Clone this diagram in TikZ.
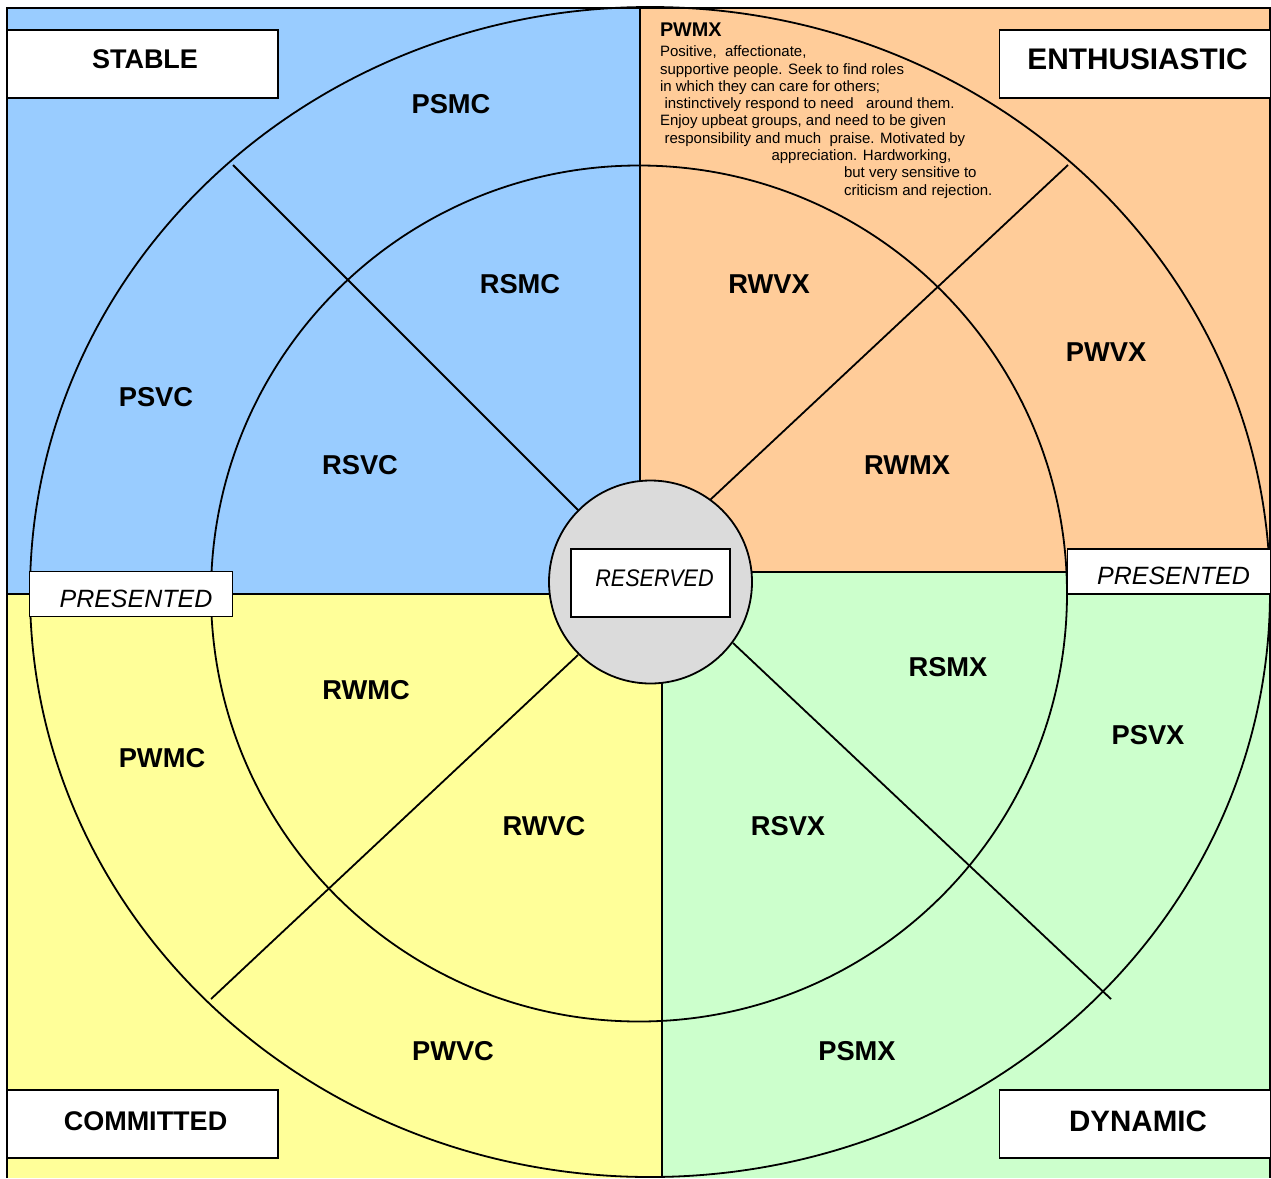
\documentclass[tikz,border=0pt]{standalone}
\usepackage{fontspec}
\setmainfont{Liberation Sans}
\usepackage{graphicx}
\definecolor{qblue}{HTML}{99CCFF}
\definecolor{qorange}{HTML}{FFCC99}
\definecolor{qyellow}{HTML}{FFFF99}
\definecolor{qgreen}{HTML}{CCFFCC}
\definecolor{qgray}{HTML}{DBDBDB}
\begin{document}
\begin{tikzpicture}[x=1pt,y=-1pt,
  every node/.style={inner sep=0pt, outer sep=0pt},
  rule/.style={line width=1.8pt, draw=black},
  region/.style={font=\fontsize{27.3}{30}\selectfont\bfseries},
  cornerbox/.style={draw=black, line width=1.8pt, fill=white, minimum width=271pt, minimum height=68pt},
  cornertext/.style={font=\fontsize{27}{30}\selectfont\bfseries},
  tagbox/.style={draw=black, line width=1.8pt, fill=white},
  tagtext/.style={font=\fontsize{25}{28}\selectfont\itshape},
  note/.style={anchor=base west, font=\fontsize{15}{17}\selectfont},
]
\useasboundingbox (0,0) rectangle (1271,1178);
\fill[white] (0,0) rectangle (1271,1178);

% quadrant backgrounds
\fill[qblue]   (7,8)     rectangle (640,594);
\fill[qorange] (640,8)   rectangle (1270,572);
\fill[qyellow] (7,594)   rectangle (662,1178);
\fill[qgreen]  (662,572) rectangle (1270,1178);

% outer and inner rings
\begin{scope}
  \clip (0,0) rectangle (1271,1178);
  \draw[rule] (650,592) ellipse [x radius=620, y radius=585];
\end{scope}
\draw[rule] (639,593.5) circle [radius=428];

% diagonal dividers
\coordinate (tlo) at (233,165);  \coordinate (tli) at (578,510);
\coordinate (tro) at (1068,165); \coordinate (tri) at (710,500);
\coordinate (blo) at (211,999);  \coordinate (bli) at (578,655);
\coordinate (bro) at (1111,999); \coordinate (bri) at (733,643);
\draw[rule] (tlo) -- (tli);
\draw[rule] (tro) -- (tri);
\draw[rule] (blo) -- (bli);
\draw[rule] (bro) -- (bri);

% quadrant borders and frame
\draw[rule] (7,594) -- (650,594);
\draw[rule] (650,572) -- (1270,572);
\draw[rule] (640,8) -- (640,583);
\draw[rule] (662,583) -- (662,1178);
\draw[rule] (7,1178) -- (7,8) -- (1270,8) -- (1270,1178);

% centre disc
\node[circle, rule, fill=qgray, minimum size=203pt] (core) at (650.5,582) {};
\node[tagbox, minimum width=159pt, minimum height=68pt] (resbox) at (650.5,583) {};
\node[font=\fontsize{24}{28}\selectfont\itshape] (restext) at (654.5,578) {\scalebox{0.9}[1]{RESERVED}};

% side tags
\node[tagbox, minimum width=203pt, minimum height=45pt] (presLbox) at (131,594) {};
\node[tagtext] (presL) at (136,598.5) {PRESENTED};
\node[tagbox, minimum width=203pt, minimum height=45pt] (presRbox) at (1169,571.7) {};
\node[tagtext] (presR) at (1173.5,575.7) {PRESENTED};

% corner boxes
\node[cornerbox] (stablebox) at (142.5,64) {};
\node[cornertext] (stable) at (145,59) {STABLE};
\node[cornerbox] (enthbox) at (1135,64) {};
\node[cornertext, font=\fontsize{29.8}{32}\selectfont\bfseries] (enth) at (1137.5,59.5) {ENTHUSIASTIC};
\node[cornerbox] (commbox) at (142.5,1124) {};
\node[cornertext] (comm) at (145.5,1121) {COMMITTED};
\node[cornerbox] (dynbox) at (1135,1124) {};
\node[cornertext, font=\fontsize{29.5}{32}\selectfont\bfseries] (dyn) at (1138,1121) {DYNAMIC};

% segment labels
\node[region] (psmc) at (451,104) {PSMC};
\node[region] (rsmc) at (520,284) {RSMC};
\node[region] (psvc) at (156,397) {PSVC};
\node[region] (rsvc) at (360,465) {RSVC};
\node[region] (rwvx) at (769,284) {RWVX};
\node[region] (pwvx) at (1106,352) {PWVX};
\node[region] (rwmx) at (907,465) {RWMX};
\node[region] (rwmc) at (366,690) {RWMC};
\node[region] (pwmc) at (162,758) {PWMC};
\node[region] (rwvc) at (544,826) {RWVC};
\node[region] (rsmx) at (948,667) {RSMX};
\node[region] (psvx) at (1148,735) {PSVX};
\node[region] (rsvx) at (788,826) {RSVX};
\node[region] (pwvc) at (453,1051) {PWVC};
\node[region] (psmx) at (857,1051) {PSMX};

% PWMX description
\node[anchor=base west, font=\fontsize{19.8}{22}\selectfont\bfseries] (pwmx) at (660,36.7) {PWMX};
\node[note] (n1) at (660,56.7)  {Positive,\ \ affectionate,};
\node[note] (n2) at (660,74.0)  {supportive people. Seek to find roles};
\node[note] (n3) at (660,91.3)  {in which they can care for others;};
\node[note] (n4) at (664.5,108.6) {instinctively respond to need\ \ \ around them.};
\node[note] (n5) at (660,125.9) {Enjoy upbeat groups, and need to be given};
\node[note] (n6) at (664.5,143.2) {responsibility and much\ \ praise. Motivated by};
\node[note] (n7) at (771.5,160.5) {appreciation. Hardworking,};
\node[note] (n8) at (844,177.8) {but very sensitive to};
\node[note] (n9) at (844,195.1) {criticism and rejection.};
\end{tikzpicture}
\end{document}
